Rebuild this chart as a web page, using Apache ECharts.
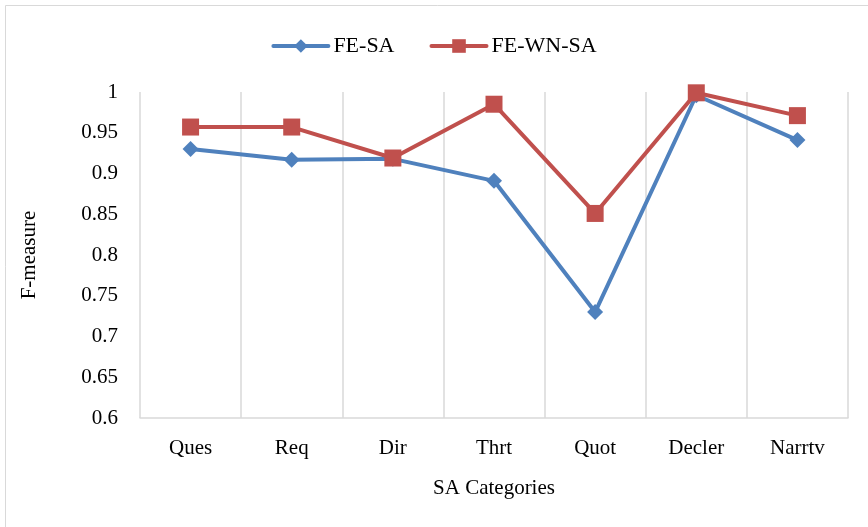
<!DOCTYPE html>
<html>
<head>
    <meta charset="utf-8">
    <title>SA Categories</title>
    <script src="https://cdn.jsdelivr.net/npm/echarts@6/dist/echarts.min.js"></script>
</head>
<body style="margin:0;">
<div id="main" style="width:868px;height:527px;"></div>
<script type="text/javascript">
// data
var categories = ['Ques', 'Req', 'Dir', 'Thrt', 'Quot', 'Decler', 'Narrtv'];
var feSa = [0.930, 0.917, 0.918, 0.891, 0.730, 0.996, 0.941];
var feWnSa = [0.957, 0.957, 0.919, 0.985, 0.851, 0.999, 0.971];
var yTicks = { min: 0.6, max: 1, step: 0.05 };

var font = 'Liberation Serif, Times New Roman, serif';
var myChart = echarts.init(document.getElementById('main'));

var option = {
    animation: false,
    backgroundColor: '#fff',
    graphic: [{
        type: 'rect',
        shape: { x: 5.5, y: 5.5, width: 900, height: 600 },
        style: { fill: 'none', stroke: '#d9d9d9', lineWidth: 1 }
    }],
    legend: {
        top: 30,
        left: 'center',
        itemWidth: 55,
        itemHeight: 17,
        itemGap: 35,
        lineStyle: { width: 4, cap: 'round' },
        textStyle: { fontFamily: font, fontSize: 22, color: '#000' },
        data: ['FE-SA', 'FE-WN-SA']
    },
    grid: { left: 140, right: 20, top: 92, bottom: 109 },
    xAxis: {
        type: 'category',
        data: categories,
        boundaryGap: true,
        name: 'SA Categories',
        nameLocation: 'middle',
        nameGap: 60,
        nameTextStyle: { fontFamily: font, fontSize: 21, color: '#000' },
        axisLine: { lineStyle: { color: '#d9d9d9', width: 1.5 } },
        axisTick: { show: false },
        splitLine: { show: true, lineStyle: { color: '#d9d9d9', width: 1.5 } },
        axisLabel: { fontFamily: font, fontSize: 21, color: '#000', margin: 20 }
    },
    yAxis: {
        type: 'value',
        min: yTicks.min,
        max: yTicks.max,
        interval: yTicks.step,
        name: 'F-measure',
        nameLocation: 'middle',
        nameGap: 100,
        nameTextStyle: { fontFamily: font, fontSize: 21, color: '#000' },
        axisLine: { show: false },
        axisTick: { show: false },
        splitLine: { show: false },
        axisLabel: {
            fontFamily: font, fontSize: 21, color: '#000', margin: 22,
            formatter: function (v) { return String(parseFloat(v.toFixed(2))); }
        }
    },
    series: [{
        name: 'FE-SA',
        type: 'line',
        data: feSa,
        symbol: 'diamond',
        symbolSize: 16,
        color: '#4f81bd',
        lineStyle: { width: 4, color: '#4f81bd' },
        itemStyle: { color: '#4f81bd' }
    }, {
        name: 'FE-WN-SA',
        type: 'line',
        data: feWnSa,
        symbol: 'rect',
        symbolSize: 17,
        color: '#c0504d',
        lineStyle: { width: 4, color: '#c0504d' },
        itemStyle: { color: '#c0504d' }
    }]
};
myChart.setOption(option);
</script>
</body>
</html>
